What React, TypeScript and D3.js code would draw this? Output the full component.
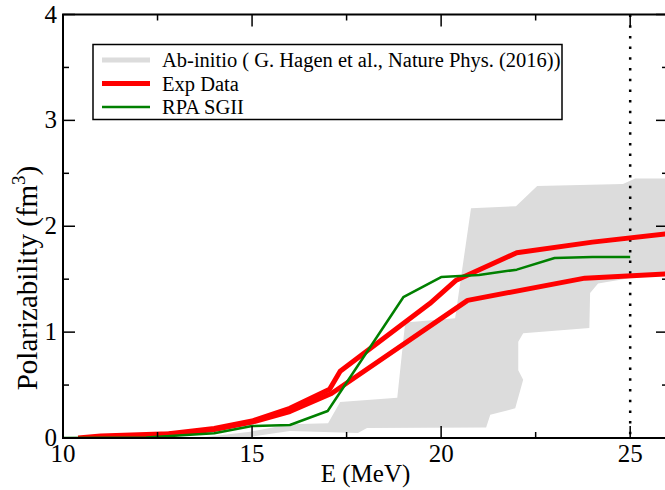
import React from 'react';
import * as d3 from 'd3';

// Ab-initio band (G. Hagen et al.), upper edge then lower edge, [E, alpha]
const bandUpper: [number, number][] = [
  [13.76, 0.01], [14.95, 0.06], [16.0, 0.13], [17.01, 0.14], [17.33, 0.34],
  [18.84, 0.38], [19.05, 1.09], [20.37, 1.13], [20.79, 2.17], [21.98, 2.19],
  [22.54, 2.38], [24.81, 2.40], [25.13, 2.45], [26.0, 2.45],
];
const bandLower: [number, number][] = [
  [26.0, 1.57], [24.15, 1.46], [23.94, 1.37], [23.92, 1.04], [22.17, 0.99],
  [22.04, 0.91], [22.04, 0.64], [22.17, 0.55], [21.96, 0.28], [21.3, 0.22],
  [21.19, 0.1], [18.04, 0.094], [17.8, 0.047], [16.0, 0.066], [14.95, 0.01],
  [13.76, 0.0],
];
const expUpper: [number, number][] = [
  [10.4, 0.0], [11, 0.02], [12.8, 0.04], [14, 0.09], [15, 0.16], [16, 0.28],
  [17.05, 0.46], [17.33, 0.63], [19.7, 1.27], [20.4, 1.49], [22, 1.75],
  [24, 1.85], [26, 1.93],
];
const expLower: [number, number][] = [
  [10.4, -0.01], [12, 0.02], [13, 0.04], [14, 0.08], [15, 0.15], [16, 0.25],
  [17.1, 0.42], [20.7, 1.3], [23.8, 1.51], [26, 1.55],
];
const rpaSGII: [number, number][] = [
  [10, 0.0], [12.2, 0.005], [14, 0.045], [15, 0.113], [16, 0.123], [17, 0.255],
  [19, 1.33], [20, 1.52], [21, 1.54], [22, 1.59], [23, 1.7], [24, 1.71], [25, 1.71],
];
const xTicks = [10, 15, 20, 25];
const xMinor = [12.5, 17.5, 22.5];
const yTicks = [0, 1, 2, 3, 4];
const yMinor = [0.5, 1.5, 2.5, 3.5];
const thresholdE = 25;
const legendItems = [
  { label: 'Ab-initio ( G. Hagen et al., Nature Phys. (2016))', color: '#dcdcdc', w: 5 },
  { label: 'Exp Data', color: '#ff0000', w: 5 },
  { label: 'RPA SGII', color: '#008000', w: 2.5 },
];

const W = 665, H = 490;
const left = 63, right = 668, top = 14.5, bottom = 438;
const serif = { fontFamily: "'Liberation Serif', 'Times New Roman', Times, 'DejaVu Serif', serif" };

export default function App() {
  const x = d3.scaleLinear().domain([10, 26]).range([left, right]);
  const y = d3.scaleLinear().domain([0, 4]).range([bottom, top]);
  const line = d3.line<[number, number]>().x(d => x(d[0])).y(d => y(d[1]));
  const band = line([...bandUpper, ...bandLower]) + 'Z';

  return (
    <svg width={W} height={H} style={{ position: 'absolute', left: 0, top: 0, background: '#fff' }}>
      <defs>
        <clipPath id="plot">
          <rect x={left} y={top} width={right - left} height={bottom - top} />
        </clipPath>
      </defs>
      <g clipPath="url(#plot)">
        <path d={band} fill="#dcdcdc" stroke="none" />
        <line x1={x(thresholdE)} x2={x(thresholdE)} y1={y(4)} y2={y(0)}
          stroke="#000" strokeWidth={2.5} strokeDasharray="2.5 8.2" />
        <path d={line(expUpper)!} fill="none" stroke="#ff0000" strokeWidth={5} strokeLinejoin="round" />
        <path d={line(expLower)!} fill="none" stroke="#ff0000" strokeWidth={5} strokeLinejoin="round" />
        <path d={line(rpaSGII)!} fill="none" stroke="#008000" strokeWidth={2.5} strokeLinejoin="round" />
      </g>

      {/* frame */}
      <rect x={left} y={top} width={right - left} height={bottom - top} fill="none" stroke="#000" strokeWidth={2} />

      {/* ticks */}
      <g stroke="#000" strokeWidth={1.5}>
        {xTicks.map(t => (
          <g key={'x' + t}>
            <line x1={x(t)} x2={x(t)} y1={bottom} y2={bottom - 12} />
            <line x1={x(t)} x2={x(t)} y1={top} y2={top + 12} />
          </g>
        ))}
        {xMinor.map(t => (
          <g key={'xm' + t}>
            <line x1={x(t)} x2={x(t)} y1={bottom} y2={bottom - 6} />
            <line x1={x(t)} x2={x(t)} y1={top} y2={top + 6} />
          </g>
        ))}
        {yTicks.map(t => (
          <g key={'y' + t}>
            <line x1={left} x2={left + 12} y1={y(t)} y2={y(t)} />
            <line x1={right} x2={right - 12} y1={y(t)} y2={y(t)} />
          </g>
        ))}
        {yMinor.map(t => (
          <g key={'ym' + t}>
            <line x1={left} x2={left + 6} y1={y(t)} y2={y(t)} />
            <line x1={right} x2={right - 6} y1={y(t)} y2={y(t)} />
          </g>
        ))}
      </g>

      {/* tick labels */}
      <g style={serif} fontSize={25} fill="#000">
        {xTicks.map(t => (
          <text key={'xl' + t} x={x(t)} y={bottom + 24} textAnchor="middle">{t}</text>
        ))}
        {yTicks.map(t => (
          <text key={'yl' + t} x={left - 6} y={y(t) + 8} textAnchor="end">{t}</text>
        ))}
      </g>

      {/* axis titles */}
      <text x={(left + right) / 2} y={482} textAnchor="middle" style={serif} fontSize={25}>E (MeV)</text>
      <text transform={`translate(37,278) rotate(-90)`} textAnchor="middle" style={serif} fontSize={29}>
        Polarizability (fm<tspan dy={-12} fontSize={19}>3</tspan><tspan dy={12}>)</tspan>
      </text>

      {/* legend */}
      <rect x={93} y={44.5} width={469} height={75} fill="#fff" stroke="#000" strokeWidth={1.5} />
      {legendItems.map((d, i) => (
        <g key={d.label} transform={`translate(0,${60 + i * 23.5})`}>
          <line x1={102} x2={150} y1={0} y2={0} stroke={d.color} strokeWidth={d.w} />
          <text x={162} y={7} style={serif} fontSize={20.5}>{d.label}</text>
        </g>
      ))}
    </svg>
  );
}
